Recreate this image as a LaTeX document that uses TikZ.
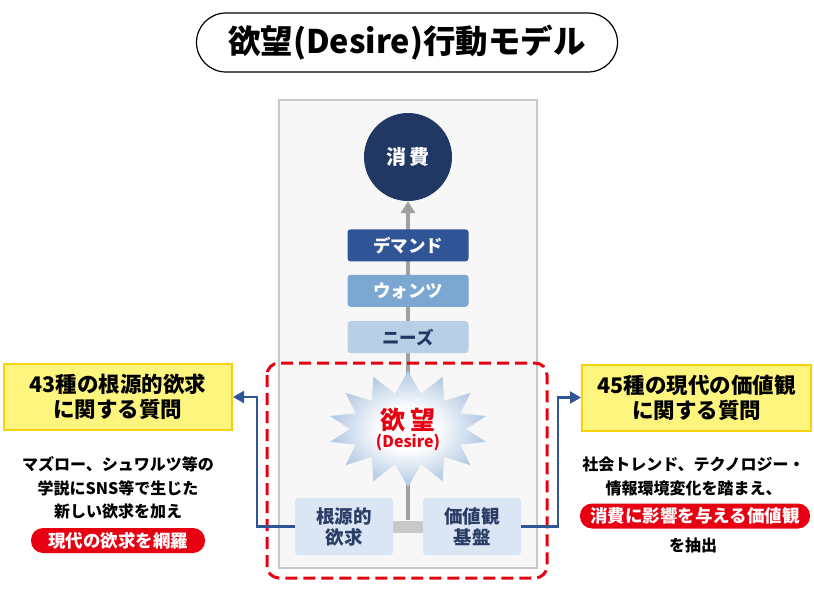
\documentclass[tikz,border=0pt]{standalone}
\usepackage{fontspec}
\setmainfont{Noto Sans CJK JP}
\usepackage{tikz}
\usetikzlibrary{arrows.meta,positioning,shapes.symbols,backgrounds}
\definecolor{navy}{HTML}{213864}
\definecolor{demandblue}{HTML}{2F5597}
\definecolor{wantsblue}{HTML}{7BA7D1}
\definecolor{needsblue}{HTML}{B8CFE6}
\definecolor{paleblue}{HTML}{DAE6F3}
\definecolor{starblue}{HTML}{B6CBE4}
\definecolor{boxtext}{HTML}{2B3D66}
\definecolor{desirered}{HTML}{E60012}
\definecolor{memoyellow}{HTML}{FDF57E}
\definecolor{memoedge}{HTML}{F5D20A}
\definecolor{panelgrey}{HTML}{F7F7F7}
\definecolor{paneledge}{HTML}{C8C8C8}
\definecolor{flowgrey}{HTML}{A0A0A0}
\pgfdeclareradialshading{desireglow}{\pgfpoint{0bp}{0bp}}{color(0bp)=(white); color(9bp)=(white); color(24bp)=(starblue); color(50bp)=(starblue)}
\newcommand\sizept[2]{\fontsize{#1}{#2}\selectfont}
\tikzset{
    %Define standard arrow tip
    >=Triangle,
    %Define style for boxes
    titlebox/.style={
           rectangle,
           rounded corners=29.5pt,
           draw=black, line width=1.2pt,
           minimum width=421pt,
           minimum height=59pt,
           font=\sizept{32.5}{36}\bfseries},
    consumenode/.style={
           circle,
           fill=navy,
           minimum size=88pt,
           text=white,
           font=\sizept{20}{22}\bfseries},
    stage/.style={
           rectangle,
           rounded corners=3pt,
           minimum width=121pt,
           minimum height=32pt,
           font=\sizept{17.5}{18}\bfseries},
    basebox/.style={
           rectangle,
           rounded corners=3pt,
           fill=paleblue,
           text=boxtext,
           minimum width=98pt,
           minimum height=57pt,
           align=center,
           font=\sizept{18.5}{21}\bfseries},
    desire/.style={
           starburst,
           starburst points=14,
           starburst point height=22pt,
           random starburst=0,
           shading=desireglow,
           minimum width=160pt,
           minimum height=116pt,
           align=center,
           text=desirered},
    memo/.style={
           rectangle,
           fill=memoyellow,
           draw=memoedge, line width=2pt,
           minimum width=228pt,
           minimum height=66pt,
           align=center,
           font=\sizept{21.5}{25}\bfseries},
    note/.style={
           align=center,
           font=\sizept{16}{23.5}\bfseries},
    pill/.style={
           rectangle,
           rounded corners=12pt,
           fill=desirered,
           text=white,
           minimum height=25pt,
           inner sep=0pt,
           font=\sizept{17.5}{20}\bfseries},
    % Define arrow style
    flow/.style={
           ->,
           draw=flowgrey,
           line width=4pt,
           >={Triangle[width=14pt,length=12pt]}},
    link/.style={
           ->,
           draw=demandblue,
           line width=2.2pt,
           >={Triangle[width=12pt,length=11pt]}},
    framered/.style={
           draw=desirered,
           line width=3pt,
           rounded corners=12pt,
           dash pattern=on 12pt off 6pt}
}
\begin{document}
\begin{tikzpicture}[x=1pt,y=-1pt,node distance=13pt]
\useasboundingbox (0,0) rectangle (814,596);
\node[titlebox](title) at (407,42.5){欲望(Desire)行動モデル};
% consumption flow
\node[consumenode](consume) at (408,157){消\kern3pt 費};
\node[stage, fill=demandblue, text=white, below=28pt of consume](demand){デマンド};
\node[stage, fill=wantsblue, text=white, below=of demand](wants){ウォンツ};
\node[stage, fill=needsblue, text=navy, below=14pt of wants](needs){ニーズ};
\node[desire](star) at (408,429){{\sizept{25}{30}\bfseries 欲\kern5pt 望}\\[1pt]{\sizept{16}{18}\bfseries (Desire)}};
\node[basebox](root) at (344,526.5){根源的\\欲求};
\node[basebox](value) at (472,526.5){価値観\\基盤};
\coordinate (bar) at (408,520);
\begin{scope}[on background layer]
  \draw[draw=paneledge, fill=panelgrey, line width=2pt] (279,100) rectangle (537,568);
  \draw[paneledge, line width=12pt] (root.east) -- (value.west);
  \draw[flow] (bar) -- (consume.south);
\end{scope}
\draw[framered] (267,363) rectangle (547,578);
% questions
\node[memo](askroot) at (118,397){43種の根源的欲求\\に関する質問};
\node[memo, minimum width=229pt](askvalue) at (696.5,397.5){45種の現代の価値観\\に関する質問};
\coordinate (lbend) at (257,526.5);
\coordinate (rbend) at (558,526.5);
\draw[link] (root.west) -- (lbend) |- (askroot.east);
\draw[link] (value.east) -- (rbend) |- (askvalue.west);
\node[note](rootnote) at (118,488){マズロー、シュワルツ等の\\学説にSNS等で生じた\\新しい欲求を加え};
\node[pill, minimum width=174pt](rootpill) at (118,540.5){現代の欲求を網羅};
\node[note](valuenote) at (693.5,476.5){社会トレンド、テクノロジー・\\情報環境変化を踏まえ、};
\node[pill, minimum width=230pt](valuepill) at (695,516){消費に影響を与える価値観};
\node[note](extract) at (693,545){を抽出};
\end{tikzpicture}
\end{document}
